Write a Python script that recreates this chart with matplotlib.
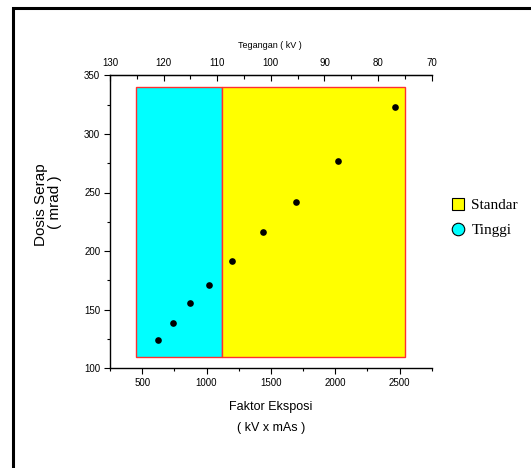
import matplotlib
matplotlib.use("Agg")
import matplotlib.pyplot as plt
from matplotlib.patches import Rectangle
from matplotlib.lines import Line2D
from matplotlib.ticker import MultipleLocator

# Data
faktor_eksposi = [621, 736, 871, 1019, 1198, 1437, 1699, 2023, 2462]
dosis_serap = [124, 138.5, 155.7, 171, 191.3, 216.3, 242.2, 276.9, 323]
region_names = ["Tinggi", "Standar"]
region_x0 = [455, 1117]
region_x1 = [1117, 2540]
region_y0 = [110, 110]
region_y1 = [340, 340]
region_colors = ["#00ffff", "#ffff00"]
x_ticks = [500, 1000, 1500, 2000, 2500]
y_ticks = [100, 150, 200, 250, 300, 350]
top_ticks = [130, 120, 110, 100, 90, 80, 70]

W, H = 531, 468
fig = plt.figure(figsize=(W / 100, H / 100), dpi=100)

# outer frame (left & top visible)
fig.patches.append(Rectangle((13 / W, -0.1), 1.2, 1 - 8 / H + 0.1, transform=fig.transFigure,
                             fill=False, edgecolor="black", linewidth=2.2, zorder=0))

ax = fig.add_axes([110 / W, 1 - 368.3 / H, (431.7 - 110) / W, (368.3 - 75.3) / H])
ax.set_xlim(250, 2750)
ax.set_ylim(100, 350)

for x0, x1, y0, y1, c in zip(region_x0, region_x1, region_y0, region_y1, region_colors):
    ax.add_patch(Rectangle((x0, y0), x1 - x0, y1 - y0, facecolor=c,
                           edgecolor="#ff3030", linewidth=1.0, zorder=1))

ax.plot(faktor_eksposi, dosis_serap, "o", color="black", markersize=4.8,
        markeredgewidth=0, zorder=3)

ax.spines["right"].set_visible(False)
for s in ["left", "bottom", "top"]:
    ax.spines[s].set_linewidth(1.0)
ax.set_xticks(x_ticks)
ax.set_yticks(y_ticks)
ax.xaxis.set_minor_locator(MultipleLocator(250))
ax.yaxis.set_minor_locator(MultipleLocator(25))
ax.tick_params(axis="both", which="major", length=4, width=0.8, direction="out", pad=3)
ax.tick_params(axis="both", which="minor", length=2, width=0.8, direction="out")
ax.tick_params(top=False, right=False, which="both")
for lab in ax.get_xticklabels() + ax.get_yticklabels():
    lab.set_fontfamily("Liberation Sans")
    lab.set_fontsize(7)

ax2 = ax.twiny()
ax2.set_xlim(130, 70)
ax2.set_xticks(top_ticks)
ax2.xaxis.set_minor_locator(MultipleLocator(5))
ax2.tick_params(axis="x", which="major", length=4, width=0.8, direction="in", pad=5)
ax2.tick_params(axis="x", which="minor", length=3, width=0.8, direction="in")
for s in ["right", "left", "bottom"]:
    ax2.spines[s].set_visible(False)
for lab in ax2.get_xticklabels():
    lab.set_fontfamily("Liberation Sans")
    lab.set_fontsize(7)

fig.text(270 / W, 1 - 45 / H, "Tegangan ( kV )", ha="center", va="center",
         family="Liberation Sans", fontsize=6.5)
fig.text(271 / W, 1 - 407 / H, "Faktor Eksposi", ha="center", va="center",
         family="Liberation Sans", fontsize=9)
fig.text(271 / W, 1 - 428 / H, "( kV x mAs )", ha="center", va="center",
         family="Liberation Sans", fontsize=9)
fig.text(41 / W, 1 - 205 / H, "Dosis Serap", ha="center", va="center", rotation=90,
         family="Liberation Sans", fontsize=11)
fig.text(55.5 / W, 1 - 202 / H, "( mrad )", ha="center", va="center", rotation=90,
         family="Liberation Sans", fontsize=11)

# legend
leg_handles = [
    Line2D([], [], marker="s", linestyle="none", markerfacecolor=region_colors[1],
           markeredgecolor="black", markersize=9, markeredgewidth=0.8),
    Line2D([], [], marker="o", linestyle="none", markerfacecolor=region_colors[0],
           markeredgecolor="black", markersize=9, markeredgewidth=0.8),
]
fig.legend(leg_handles, [region_names[1], region_names[0]], loc="center left",
           bbox_to_anchor=(444 / W, 1 - 218 / H), frameon=False, handlelength=0.8,
           handletextpad=0.5, labelspacing=0.75, borderpad=0,
           prop=dict(family="Liberation Serif", size=11))

fig.savefig("out.png", dpi=100)
